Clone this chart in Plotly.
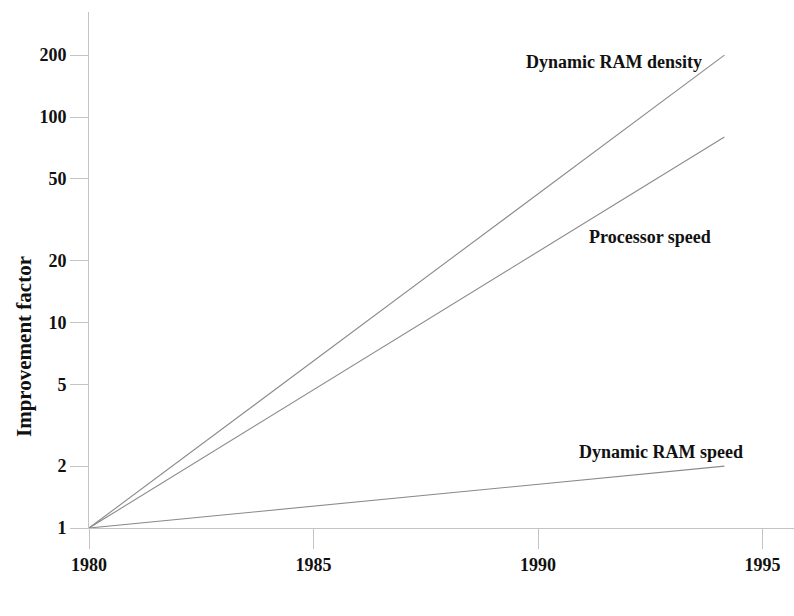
import plotly.graph_objects as go
import math

years = [1980, 1994.15]
ram_density = [1, 200]
processor_speed = [1, 80]
ram_speed = [1, 2]

series = [
    ("Dynamic RAM density", ram_density),
    ("Processor speed", processor_speed),
    ("Dynamic RAM speed", ram_speed),
]

y_ticks = [1, 2, 5, 10, 20, 50, 100, 200]
x_ticks = [1980, 1985, 1990, 1995]

# label anchors (right edge x in years, y in values)
labels = [
    ("Dynamic RAM density", 1993.7, 185),
    ("Processor speed", 1993.9, 26),
    ("Dynamic RAM speed", 1994.6, 2.35),
]

fig = go.Figure()
for name, vals in series:
    fig.add_trace(go.Scatter(x=years, y=vals, mode="lines", name=name,
                             line=dict(color="#8a8a8a", width=1.1),
                             showlegend=False, hoverinfo="skip"))

font_main = dict(family="Liberation Serif", size=18, color="#111111", weight="bold")

for text, lx, ly in labels:
    fig.add_annotation(x=lx, y=math.log10(ly), text=text, showarrow=False,
                       xanchor="right", yanchor="middle", font=font_main)

# y-axis title placed as rotated annotation (lower than plot centre, as in reference)
fig.add_annotation(xref="paper", yref="paper", x=(24 - 89) / 705, y=(528 - 347) / 516,
                   text="Improvement factor", textangle=-90, showarrow=False,
                   xanchor="center", yanchor="middle",
                   font=dict(family="Liberation Serif", size=21, color="#111111", weight="bold"))

axis_col = "#c4c4c4"
fig.update_xaxes(range=[1980, 1995.7], tickvals=x_ticks, ticktext=[str(v) for v in x_ticks],
                 showgrid=False, zeroline=False, showline=True, linecolor=axis_col, linewidth=1,
                 ticks="outside", ticklen=20, tickcolor=axis_col, tickwidth=1,
                 tickfont=font_main)
fig.update_yaxes(type="log", range=[0, 2.511], tickvals=y_ticks, ticktext=[str(v) for v in y_ticks],
                 showgrid=False, zeroline=False, showline=True, linecolor=axis_col, linewidth=1,
                 ticks="outside", ticklen=18, tickcolor=axis_col, tickwidth=1,
                 tickfont=font_main)

fig.update_layout(width=794, height=616, margin=dict(l=89, r=0, t=12, b=88),
                  plot_bgcolor="white", paper_bgcolor="white")

fig.write_html("out.html")
